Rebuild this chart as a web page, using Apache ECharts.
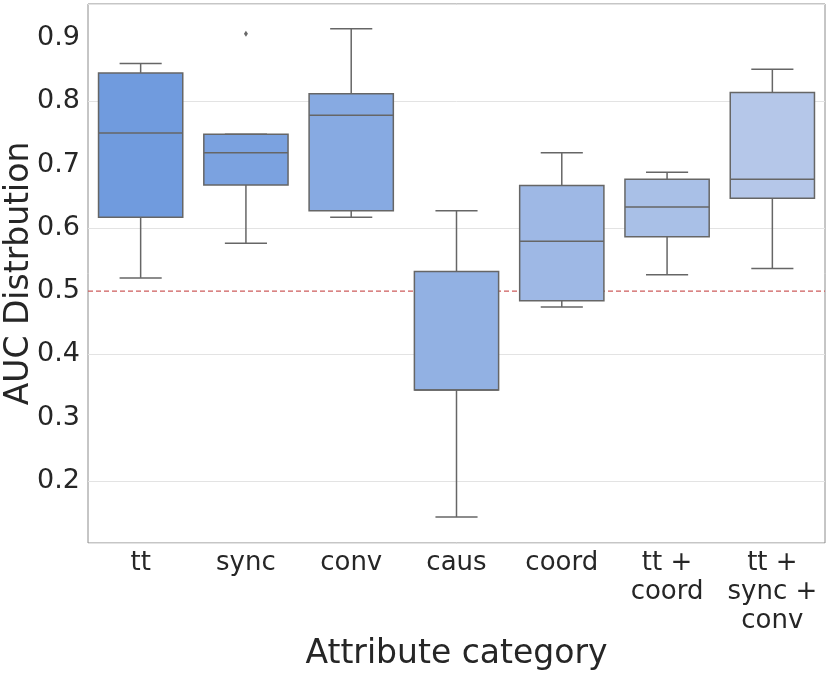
<!DOCTYPE html>
<html>
<head>
<meta charset="utf-8">
<script src="https://cdn.jsdelivr.net/npm/echarts@6/dist/echarts.min.js"></script>
<style>
  html, body { margin: 0; padding: 0; background: #fff; }
  #chart { width: 830px; height: 674px; }
</style>
</head>
<body>
<div id="chart"></div>
<script>
// categories on the x axis
var categories = ['tt', 'sync', 'conv', 'caus', 'coord', 'tt +\ncoord', 'tt +\nsync +\nconv'];
// box stats: [lower whisker, Q1, median, Q3, upper whisker]
var lowerWhisker = [0.521, 0.576, 0.617, 0.143, 0.475, 0.526, 0.536];
var q1Values     = [0.617, 0.668, 0.627, 0.344, 0.485, 0.586, 0.647];
var medianValues = [0.750, 0.719, 0.778, 0.344, 0.579, 0.633, 0.677];
var q3Values     = [0.845, 0.748, 0.812, 0.531, 0.667, 0.677, 0.814];
var upperWhisker = [0.860, 0.748, 0.915, 0.627, 0.719, 0.688, 0.851];
// outliers: [category index, value]
var outliers = [[1, 0.907]];
var yTicks = [0.2, 0.3, 0.4, 0.5, 0.6, 0.7, 0.8, 0.9];
var chanceLevel = 0.5;

var boxColors = ['#709bde', '#7ba2e0', '#87aae2', '#92b1e3', '#9eb8e5', '#a9c0e7', '#b5c7e9'];
var font = '"DejaVu Sans", sans-serif';
var textColor = '#262626';
var lineColor = '#666666';

var boxData = categories.map(function (c, i) {
  return [i, lowerWhisker[i], q1Values[i], medianValues[i], q3Values[i], upperWhisker[i]];
});

function renderBox(params, api) {
  var i = api.value(0);
  var band = api.size([1, 0])[0];
  var boxW = band * 0.8;
  var capW = boxW * 0.5;
  var pLow = api.coord([i, api.value(1)]);
  var pQ1 = api.coord([i, api.value(2)]);
  var pMed = api.coord([i, api.value(3)]);
  var pQ3 = api.coord([i, api.value(4)]);
  var pHigh = api.coord([i, api.value(5)]);
  var x = pMed[0];
  var stroke = { stroke: lineColor, lineWidth: 1.5 };
  return {
    type: 'group',
    children: [
      { type: 'line', shape: { x1: x, y1: pQ1[1], x2: x, y2: pLow[1] }, style: stroke },
      { type: 'line', shape: { x1: x, y1: pQ3[1], x2: x, y2: pHigh[1] }, style: stroke },
      { type: 'line', shape: { x1: x - capW / 2, y1: pLow[1], x2: x + capW / 2, y2: pLow[1] }, style: stroke },
      { type: 'line', shape: { x1: x - capW / 2, y1: pHigh[1], x2: x + capW / 2, y2: pHigh[1] }, style: stroke },
      {
        type: 'rect',
        shape: { x: x - boxW / 2, y: pQ3[1], width: boxW, height: pQ1[1] - pQ3[1] },
        style: { fill: boxColors[i], stroke: lineColor, lineWidth: 1.5 }
      },
      { type: 'line', shape: { x1: x - boxW / 2, y1: pMed[1], x2: x + boxW / 2, y2: pMed[1] }, style: stroke }
    ]
  };
}

// horizontal dashed reference line across the whole plot
function renderRefLine(params, api) {
  var cs = params.coordSys;
  var y = api.coord([0, api.value(0)])[1];
  return {
    type: 'line',
    shape: { x1: cs.x, y1: y, x2: cs.x + cs.width, y2: y },
    style: { stroke: '#cd5c5c', lineWidth: 1.3, lineDash: [5, 3] }
  };
}

var chart = echarts.init(document.getElementById('chart'), null, { renderer: 'canvas' });
chart.setOption({
  backgroundColor: '#ffffff',
  animation: false,
  grid: {
    left: 88, right: 5, top: 4, bottom: 131,
    outerBoundsMode: 'none',
    containLabel: false,
    show: true, borderColor: '#8c8c8c', borderWidth: 1
  },
  xAxis: {
    type: 'category',
    data: categories,
    name: 'Attribute category',
    nameLocation: 'middle',
    nameGap: 95,
    nameMoveOverlap: false,
    nameTextStyle: { fontFamily: font, fontSize: 33, color: textColor },
    axisLine: { show: false },
    axisTick: { show: false },
    splitLine: { show: false },
    axisLabel: {
      fontFamily: font, fontSize: 26, color: textColor,
      lineHeight: 29, margin: 6, interval: 0, verticalAlign: 'top'
    }
  },
  yAxis: {
    type: 'value',
    min: 0.102,
    max: 0.954,
    name: 'AUC Distrbution',
    nameLocation: 'middle',
    nameGap: 52,
    nameMoveOverlap: false,
    nameTextStyle: { fontFamily: font, fontSize: 33, color: textColor },
    axisLine: { show: false },
    axisTick: { show: false },
    axisLabel: {
      fontFamily: font, fontSize: 27, color: textColor, margin: 8,
      customValues: yTicks,
      formatter: function (v) { return v.toFixed(1); }
    },
    splitLine: { show: true, lineStyle: { color: '#e3e3e3', width: 1 } }
  },
  series: [
    {
      type: 'custom',
      renderItem: renderRefLine,
      data: [[chanceLevel]],
      encode: { y: 0 },
      silent: true,
      z: 2
    },
    {
      type: 'custom',
      renderItem: renderBox,
      data: boxData,
      encode: { x: 0, y: [1, 2, 3, 4, 5] },
      z: 3
    },
    {
      type: 'scatter',
      data: outliers,
      symbol: 'diamond',
      symbolSize: [4, 6],
      itemStyle: { color: '#444444' },
      z: 4
    }
  ]
});
</script>
</body>
</html>
